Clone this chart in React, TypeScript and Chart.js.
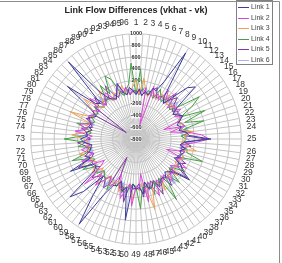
import { useEffect, useRef } from "react";
import { Chart, registerables } from "chart.js";

Chart.register(...registerables);

// Link indices 1..96 around the dial
const linkLabels: string[] = Array.from({ length: 96 }, (_, i) => String(i + 1));

const seriesNames = ["Link 1", "Link 2", "Link 3", "Link 4", "Link 5", "Link 6"];
const seriesColors = ["#3d3d9e", "#dd44dd", "#f0a050", "#44a044", "#7b3a9e", "#aab4ec"];

const link1 = [
  -40, 60, -50, 30, -20, 120, 90, 300, 900, 60,
  -30, 150, 440, 550, 80, -40, 20, 90, 10, -60,
  0, -50, 70, 110, 480, 30, -40, 60, -20, 20,
  10, -70, 90, 150, 350, 60, -10, -50, 40, 0,
  20, 120, -30, 60, 90, -50, 150, 30, 60, -30,
  600, 40, 120, -40, 60, 90, 300, 950, 400, 50,
  470, 700, 100, 20, 60, 450, 40, 120, 20, -10,
  -40, 90, 150, 30, 60, -30, 40, 10, 120, 30,
  -20, 150, 680, 120, 60, 950, 200, 40, -10, -40,
  60, 200, 20, -30, 90, 30,
];
const link2 = [
  -30, 40, -60, 90, -550, 150, -20, 60, -40, 200,
  30, 250, -50, 80, 20, 120, -40, 60, 10, -300,
  40, -200, 90, 320, 450, 200, -30, 70, 20, -250,
  50, -40, 200, 30, -60, 90, 10, 150, -30, 40,
  80, -20, 250, 60, -40, 300, -200, 70, 20, 350,
  -30, 90, 250, 40, -150, 60, 120, -30, 80, 250,
  20, 367, -40, -150, 60, 30, 200, -30, 70, 150,
  -20, 90, 40, -50, 250, 60, 200, -20, 80, 100,
  30, 80, -40, 250, 60, -30, 90, 150, 20, -40,
  70, 200, 30, 100, -20, 40,
];
const link3 = [
  200, -30, 250, 40, -50, 60, 20, -40, 90, 30,
  150, -20, 50, 10, 100, -40, 30, 60, -30, 20,
  40, -50, 200, 30, 60, -20, 80, 250, -40, 30,
  80, 20, -30, 50, 10, 150, -40, 60, 30, -20,
  200, 40, -30, 80, 450, 60, -40, 90, 30, 250,
  -20, 60, 40, 150, -30, 70, 20, -40, 90, 200,
  30, -50, 150, 40, -20, 60, 30, 90, 200, -30,
  50, 20, 90, 300, 60, -40, 80, 30, 420, 50,
  -20, 90, 330, 40, -30, 60, 250, 20, -40, 80,
  30, 60, 150, -20, 40, 90,
];
const link4 = [
  -40, 400, 30, -20, 60, 10, -50, 150, 40, -30,
  80, 200, 20, -40, 90, 500, 300, 60, 480, 80,
  400, 30, 150, -30, 60, 20, -40, 90, 100, 400,
  30, -20, 60, 200, 10, -50, 250, 40, 60, 450,
  -30, 80, 20, 200, -40, 60, 30, 400, 20, -30,
  60, 40, 150, -20, 80, 30, 200, -40, 60, 20,
  -30, 90, 40, 60, 250, -20, 80, 350, 30, -40,
  200, 60, 430, 90, -30, 40, 250, 20, -40, 60,
  30, -20, 80, 40, -30, 60, 20, 300, 90, 400,
  300, 40, -30, 60, 150, 500,
];
const link5 = [
  20, -40, 60, 30, -30, 80, 150, -20, 40, 60,
  -30, 90, 200, 40, -20, 60, 30, 100, -40, 20,
  60, -30, 80, 40, 400, 30, 150, -20, 60, 20,
  -40, 150, 30, 60, 300, -30, 40, 20, 200, -20,
  60, 250, 30, -40, 80, 20, 200, -30, 40, 60,
  -20, 300, 40, 90, -30, -450, 80, 200, 60, 40,
  100, 200, -30, 60, 90, 300, 20, -40, 60, 30,
  80, 200, -20, 60, 40, 150, -30, 20, 60, 90,
  -20, -600, 100, 40, 200, -30, 60, 20, 250, 40,
  -30, 60, 20, 100, -40, 30,
];
const link6 = [
  -20, 30, 60, 100, -30, 40, 20, -40, 60, 30,
  -20, 50, 40, 150, 20, -30, 60, 40, -20, 30,
  60, 100, -30, 40, 80, 150, 20, -40, 60, 30,
  100, -20, 40, 60, -30, 30, 60, 200, 20, -40,
  60, 30, -20, 40, 60, 150, 20, -30, 60, 40,
  30, 200, -20, 60, 30, 40, -30, 150, 60, 20,
  -40, 60, 30, 40, -20, 60, 150, 30, -40, 60,
  20, 40, -30, 250, 200, 60, 20, -40, 60, 100,
  30, -20, 60, 40, -30, 150, 20, 60, -40, 30,
  60, 100, -20, 40, 30, 60,
];

const seriesValues = [link1, link2, link3, link4, link5, link6];

const FONT = '"Liberation Sans", Arial, sans-serif';

// Boxed legend in the top-right corner, overlapping the plot
const cornerLegend = {
  id: "cornerLegend",
  afterDraw(chart: any) {
    const ctx = chart.ctx as CanvasRenderingContext2D;
    ctx.save();
    const x0 = 236.5, y0 = 0.5, w = 36, h = 64;
    ctx.fillStyle = "#ffffff";
    ctx.fillRect(x0, y0, w, h);
    ctx.strokeStyle = "#808080";
    ctx.lineWidth = 1;
    ctx.strokeRect(x0, y0, w, h);
    ctx.font = `7px ${FONT}`;
    ctx.textBaseline = "middle";
    chart.data.datasets.forEach((ds: any, i: number) => {
      const y = Math.round(7 + i * 10.5) + 0.5;
      ctx.strokeStyle = ds.borderColor;
      ctx.lineWidth = 1;
      ctx.beginPath();
      ctx.moveTo(238, y);
      ctx.lineTo(249, y);
      ctx.stroke();
      ctx.fillStyle = "#444444";
      ctx.fillText(ds.label, 251, y);
    });
    ctx.restore();
  },
};

// Thin frame along the top and right edges
const frameEdges = {
  id: "frameEdges",
  afterDraw(chart: any) {
    const ctx = chart.ctx as CanvasRenderingContext2D;
    ctx.save();
    ctx.strokeStyle = "#8c8c8c";
    ctx.lineWidth = 1;
    ctx.beginPath();
    ctx.moveTo(0, 1.5);
    ctx.lineTo(279.5, 1.5);
    ctx.lineTo(279.5, 263);
    ctx.stroke();
    ctx.restore();
  },
};

export default function App() {
  const canvasRef = useRef<HTMLCanvasElement | null>(null);

  useEffect(() => {
    if (!canvasRef.current) return;
    const chart = new Chart(canvasRef.current, {
      type: "radar",
      data: {
        labels: linkLabels,
        datasets: seriesNames.map((name, i) => ({
          label: name,
          data: seriesValues[i],
          borderColor: seriesColors[i],
          backgroundColor: "transparent",
          borderWidth: i === 5 ? 1.5 : 1,
          pointRadius: 0,
          fill: false,
        })),
      },
      options: {
        responsive: true,
        maintainAspectRatio: false,
        animation: false,
        layout: { padding: { top: 0, left: 0, right: 10, bottom: 1 } },
        plugins: {
          legend: { display: false },
          tooltip: { enabled: false },
          title: {
            display: true,
            text: "Link Flow Differences (vkhat - vk)",
            color: "#222222",
            font: { family: FONT, size: 9, weight: "bold" },
            padding: { top: 5, bottom: 2 },
          },
        },
        scales: {
          r: {
            min: -800,
            max: 1000,
            ticks: {
              stepSize: 200,
              color: "#333333",
              font: { family: FONT, size: 5.5, weight: "bold" },
              backdropColor: "rgba(255,255,255,0.75)",
              backdropPadding: 0,
              callback: (v: any) => String(v),
            },
            grid: { circular: true, color: "#c4c4c4", lineWidth: 1 },
            angleLines: { color: "#c4c4c4", lineWidth: 1 },
            pointLabels: {
              color: "#333333",
              font: { family: FONT, size: 8.5 },
              padding: 3,
            },
          },
        },
      },
      plugins: [cornerLegend, frameEdges],
    });
    return () => chart.destroy();
  }, []);

  return (
    <div style={{ position: "fixed", left: 0, top: 0, width: 282, height: 263, background: "#ffffff" }}>
      <canvas ref={canvasRef} />
    </div>
  );
}
